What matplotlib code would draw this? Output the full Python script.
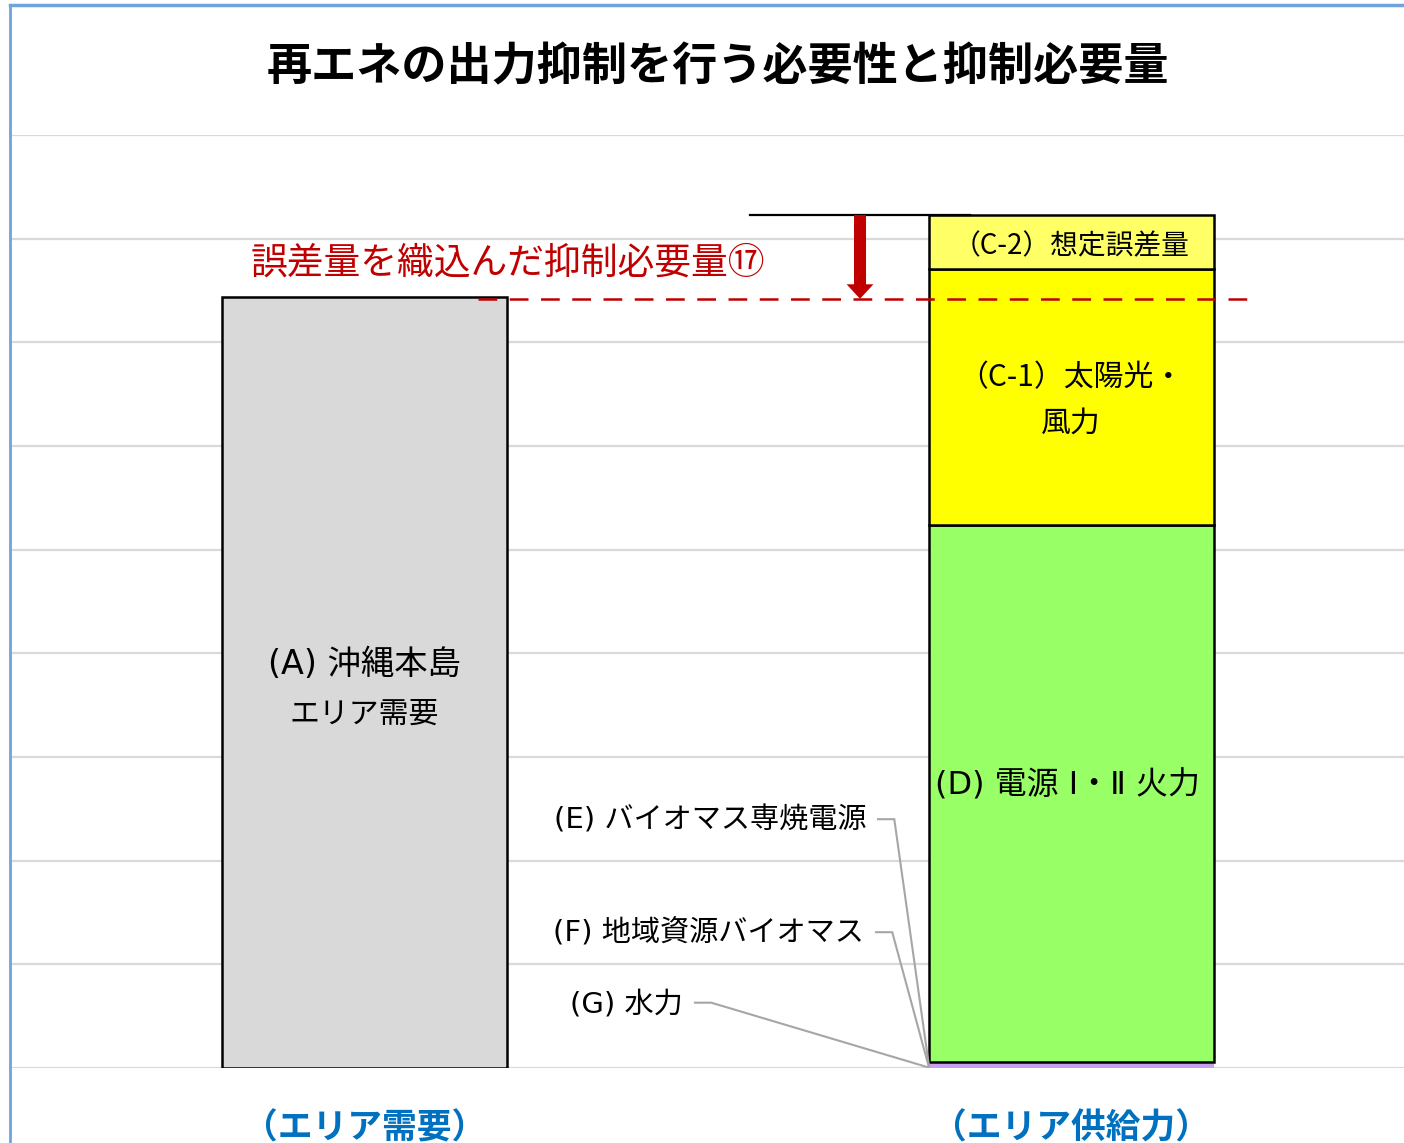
import matplotlib.pyplot as plt
from matplotlib.lines import Line2D

plt.rcParams['font.family'] = ['Noto Sans CJK JP', 'DejaVu Sans']
LATIN_FIRST = ['DejaVu Sans', 'Noto Sans CJK JP']

# data (arbitrary units, grid step = 100)
categories = ['（エリア需要）', '（エリア供給力）']
demand = 743.7
supply_names = ['(G) 水力', '(F) 地域資源バイオマス', '(E) バイオマス専焼電源',
                '(D) 電源 Ⅰ・Ⅱ 火力', '（C-1）太陽光・\n風力', '（C-2）想定誤差量']
supply_values = [1.0, 1.0, 3.5, 518.3, 246.9, 52.1]
supply_colors = ['#C9A0F0', '#C9A0F0', '#C9A0F0', '#99FF66', '#FFFF00', '#FFFF66']
curtail_level = 742.0

title = '再エネの出力抑制を行う必要性と抑制必要量'
curtail_label = '誤差量を織込んだ抑制必要量⑰'

W, H = 1404, 1143
fig = plt.figure(figsize=(W / 100, H / 100), dpi=100)
ax = fig.add_axes([11 / W, (H - 1068) / H, (W - 11) / W, (1068 - 135) / H])
ax.set_xlim(-0.5, 1.471)
ax.set_ylim(0, 900)
for s in ax.spines.values():
    s.set_visible(False)
ax.set_yticks(range(0, 901, 100))
ax.yaxis.grid(True, color='#D9D9D9', lw=1.6)
ax.set_axisbelow(True)
ax.tick_params(left=False, labelleft=False, bottom=False)
ax.set_xticks([0, 1])
ax.set_xticklabels(categories, fontsize=25, fontweight='bold', color='#0070C0')
ax.tick_params(axis='x', pad=27)

width = 0.403
# demand bar
ax.bar(0, demand, width, color='#D9D9D9', edgecolor='black', lw=1.8, zorder=2)
ax.text(0, demand * 0.524, '(A) 沖縄本島', ha='center', va='center', fontsize=24,
        family=LATIN_FIRST, zorder=4)
ax.text(0, demand * 0.459, 'エリア需要', ha='center', va='center', fontsize=21.5, zorder=4)

# supply stacked bar
bottom = 0
mids = []
for name, v, c in zip(supply_names, supply_values, supply_colors):
    big = v > 20
    ax.bar(1, v, width, bottom=bottom, color=c,
           edgecolor='black' if big else 'none', lw=1.8, zorder=2)
    mids.append(bottom + v / 2)
    bottom += v
top_supply = bottom

x_left = 1 - width / 2
# labels inside bar
ax.text(0.995, mids[3] + 8, supply_names[3], ha='center', va='center', fontsize=23,
        family=LATIN_FIRST, zorder=4)
ax.text(1, mids[4] + 19, '（C-1）太陽光・', ha='center', va='center', fontsize=21.5, zorder=4)
ax.text(1, mids[4] - 25, '風力', ha='center', va='center', fontsize=21.5, zorder=4)
ax.text(1, mids[5] - 4, supply_names[5], ha='center', va='center', fontsize=20, zorder=4)

# leader labels for small slices
leaders = [(0.7098, 238.5, 2), (0.7069, 129.5, 1), (0.4508, 61.5, 0)]
for xt, yt, i in leaders:
    ax.text(xt, yt, supply_names[i], ha='right', va='center', fontsize=21,
            family=LATIN_FIRST, zorder=4)
    ax.plot([xt + 0.017, xt + 0.04, x_left], [yt + 1.5, yt + 1.5, mids[i]],
            color='#A6A6A6', lw=1.5, zorder=3, solid_joinstyle='miter')

# supply top line, required curtailment line and arrow
ax.plot([0.5456, 0.857], [top_supply, top_supply], color='black', lw=1.6, zorder=3)
ax.plot([0.1607, 1.2562], [curtail_level, curtail_level], color='#C00000', lw=1.8,
        ls=(0, (7.5, 5)), zorder=5)
ax.arrow(0.7013, top_supply, 0, curtail_level - top_supply, width=0.017,
         head_width=0.038, head_length=14, length_includes_head=True,
         color='#C00000', lw=0, zorder=6)
ax.text(0.2035, 776.5, curtail_label, ha='center', va='center', fontsize=26.5,
        color='#C00000', zorder=4)

fig.text(718 / W, 1 - 67 / H, title, ha='center', va='center', fontsize=32.5,
         fontweight='bold')

# blue frame (left and top)
fig.add_artist(Line2D([10 / W, 10 / W], [0, 1 - 5 / H], color='#6FA3DA', lw=2))
fig.add_artist(Line2D([10 / W, 1], [1 - 5 / H, 1 - 5 / H], color='#6FA3DA', lw=2.5))

fig.savefig('out.png', dpi=100)
